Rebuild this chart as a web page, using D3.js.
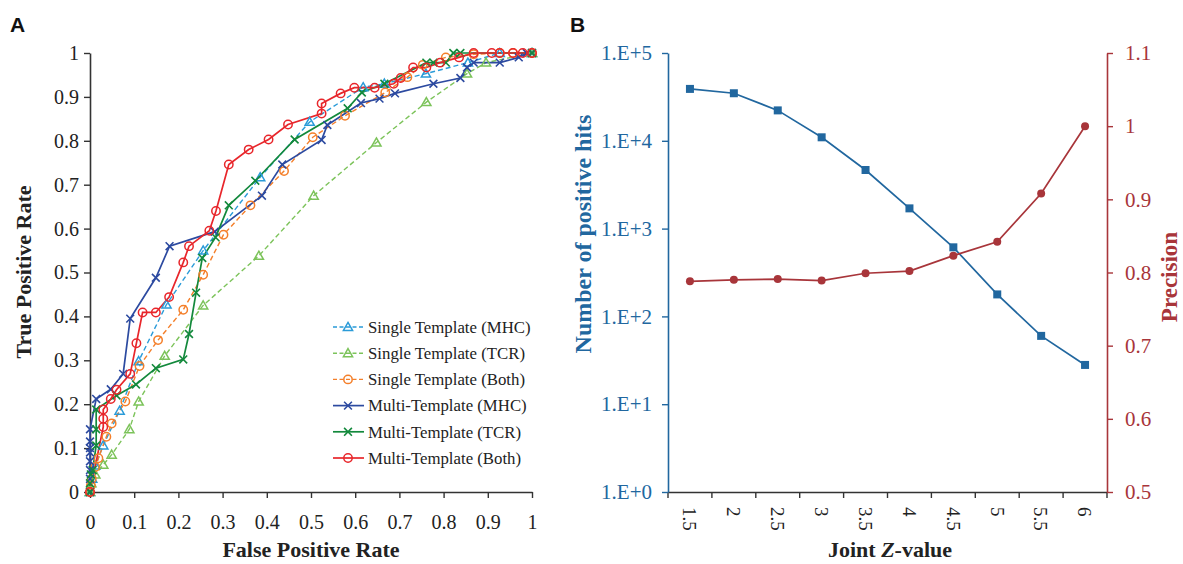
<!DOCTYPE html>
<html>
<head>
<meta charset="utf-8">
<script src="https://cdn.jsdelivr.net/npm/d3@7"></script>
<style>
  body { margin: 0; background: #fff; }
  svg { font-family: "Liberation Serif", "Times New Roman", serif; }
</style>
</head>
<body>
<div id="chart"></div>
<script>
// ---- Panel A: ROC curves (FPR, TPR pairs) ----
const singleMHC = [[0,0],[0.005,0.03],[0.012,0.06],[0.030,0.106],[0.067,0.185],[0.110,0.298],[0.173,0.427],[0.256,0.550],[0.385,0.717],[0.497,0.843],[0.618,0.922],[0.666,0.930],[0.760,0.953],[0.855,0.978],[0.927,1],[1,1]];
const singleTCR = [[0,0],[0.003,0.02],[0.012,0.04],[0.030,0.062],[0.049,0.085],[0.089,0.143],[0.110,0.206],[0.169,0.310],[0.256,0.425],[0.382,0.538],[0.506,0.675],[0.648,0.796],[0.761,0.888],[0.853,0.953],[0.896,0.978],[1,1]];
const singleBoth = [[0,0],[0.002,0.015],[0.004,0.03],[0.012,0.057],[0.019,0.077],[0.037,0.126],[0.049,0.156],[0.080,0.206],[0.112,0.287],[0.154,0.346],[0.211,0.415],[0.256,0.495],[0.302,0.586],[0.363,0.653],[0.439,0.731],[0.504,0.808],[0.577,0.857],[0.668,0.910],[0.718,0.945],[0.753,0.973],[0.805,0.990],[0.868,0.997],[0.927,1],[0.957,1],[1,1]];
const multiMHC = [[0,0],[0,0.03],[0,0.05],[0,0.07],[0,0.09],[0,0.10],[0,0.115],[0,0.143],[0.014,0.212],[0.047,0.234],[0.075,0.269],[0.091,0.395],[0.149,0.488],[0.180,0.560],[0.282,0.593],[0.389,0.675],[0.435,0.746],[0.524,0.802],[0.537,0.836],[0.613,0.886],[0.655,0.896],[0.690,0.908],[0.777,0.930],[0.838,0.943],[0.853,0.967],[0.868,0.978],[0.927,0.978],[0.970,0.990],[0.988,1],[1,1]];
const multiTCR = [[0,0],[0,0.02],[0.002,0.04],[0.006,0.05],[0.014,0.106],[0.014,0.143],[0.014,0.188],[0.060,0.220],[0.104,0.245],[0.149,0.282],[0.211,0.302],[0.224,0.360],[0.240,0.454],[0.254,0.533],[0.284,0.580],[0.314,0.653],[0.374,0.709],[0.463,0.803],[0.583,0.874],[0.615,0.910],[0.666,0.930],[0.761,0.978],[0.777,0.978],[0.805,0.978],[0.822,1],[0.838,1],[1,1]];
const multiBoth = [[0,0],[0.030,0.148],[0.030,0.167],[0.030,0.188],[0.047,0.212],[0.060,0.233],[0.091,0.269],[0.105,0.339],[0.119,0.409],[0.149,0.409],[0.179,0.444],[0.211,0.523],[0.224,0.560],[0.270,0.595],[0.285,0.640],[0.314,0.746],[0.359,0.780],[0.404,0.803],[0.448,0.837],[0.524,0.862],[0.524,0.885],[0.567,0.908],[0.598,0.921],[0.644,0.921],[0.687,0.930],[0.703,0.943],[0.731,0.967],[0.761,0.967],[0.792,0.978],[0.835,0.990],[0.868,1],[0.909,1],[0.927,1],[0.957,1],[0.979,1],[1,1]];

const rocTicks = [0,0.1,0.2,0.3,0.4,0.5,0.6,0.7,0.8,0.9,1];

// ---- Panel B: hits and precision by joint Z-value ----
const zValues = ["1.5","2","2.5","3","3.5","4","4.5","5","5.5","6"];
const positiveHits = [39000,34800,22200,10960,4650,1700,612,178,60,28];
const precision = [0.788,0.790,0.791,0.789,0.799,0.802,0.823,0.842,0.908,1.0];
const hitTicks = [1,10,100,1000,10000,100000];
const precTicks = [0.5,0.6,0.7,0.8,0.9,1.0,1.1];

const series = [
  {name: "Single Template (MHC)", data: singleMHC, color: "#2a9bd8", dash: "5,3", marker: "tri"},
  {name: "Single Template (TCR)", data: singleTCR, color: "#7cc35a", dash: "5,3", marker: "tri"},
  {name: "Single Template (Both)", data: singleBoth, color: "#f47f2a", dash: "5,3", marker: "circle"},
  {name: "Multi-Template (MHC)", data: multiMHC, color: "#2c4aa0", dash: null, marker: "x"},
  {name: "Multi-Template (TCR)", data: multiTCR, color: "#13893c", dash: null, marker: "x"},
  {name: "Multi-Template (Both)", data: multiBoth, color: "#e8262b", dash: null, marker: "circle"}
];

const W = 1183, H = 564;
const svg = d3.select("#chart").append("svg").attr("width", W).attr("height", H);

function drawMarker(g, type, x, y, color) {
  if (type === "circle") {
    g.append("circle").attr("cx", x).attr("cy", y).attr("r", 4.2)
      .attr("fill", "none").attr("stroke", color).attr("stroke-width", 1.5);
  } else if (type === "tri") {
    const s = 4.6;
    g.append("path")
      .attr("d", `M${x},${y - s}L${x + s},${y + s * 0.75}L${x - s},${y + s * 0.75}Z`)
      .attr("fill", "none").attr("stroke", color).attr("stroke-width", 1.5);
  } else {
    const s = 3.9;
    g.append("path")
      .attr("d", `M${x - s},${y - s}L${x + s},${y + s}M${x - s},${y + s}L${x + s},${y - s}`)
      .attr("stroke", color).attr("stroke-width", 1.6);
  }
}

// ================= Panel A =================
const xA = d3.scaleLinear().domain([0, 1]).range([90, 532]);
const yA = d3.scaleLinear().domain([0, 1]).range([492, 53]);

const gA = svg.append("g");

const axA_x = gA.append("g").attr("transform", `translate(0,${yA(0)})`)
  .call(d3.axisBottom(xA).tickValues(rocTicks).tickFormat(d3.format("")).tickSize(6).tickSizeOuter(0));
axA_x.selectAll("text").attr("y", 23).attr("font-size", 20).attr("fill", "#222")
  .attr("font-family", "Liberation Serif");
const axA_y = gA.append("g").attr("transform", `translate(${xA(0)},0)`)
  .call(d3.axisLeft(yA).tickValues(rocTicks).tickFormat(d3.format("")).tickSize(6).tickSizeOuter(0));
axA_y.selectAll("text").attr("x", -11).attr("font-size", 20).attr("fill", "#222")
  .attr("font-family", "Liberation Serif");
[axA_x, axA_y].forEach(a => {
  a.select(".domain").attr("stroke", "#333").attr("stroke-width", 1.6);
  a.selectAll(".tick line").attr("stroke", "#333").attr("stroke-width", 1.4);
});

const lineA = d3.line().x(d => xA(d[0])).y(d => yA(d[1]));
series.forEach(s => {
  gA.append("path").datum(s.data).attr("d", lineA)
    .attr("fill", "none").attr("stroke", s.color).attr("stroke-width", s.dash ? 1.4 : 1.7)
    .attr("stroke-dasharray", s.dash);
});
series.forEach(s => {
  const mg = gA.append("g");
  s.data.forEach(d => drawMarker(mg, s.marker, xA(d[0]), yA(d[1]), s.color));
});

// legend
const leg = gA.append("g");
series.forEach((s, i) => {
  const y = 327 + i * 26.2;
  leg.append("line").attr("x1", 333).attr("x2", 364).attr("y1", y).attr("y2", y)
    .attr("stroke", s.color).attr("stroke-width", s.dash ? 1.4 : 1.7).attr("stroke-dasharray", s.dash ? "4,2.5" : null);
  drawMarker(leg, s.marker, 348, y, s.color);
  leg.append("text").attr("x", 368).attr("y", y).attr("dy", "0.35em")
    .attr("font-size", 16.8).attr("fill", "#222").text(s.name);
});

gA.append("text").attr("x", 311).attr("y", 557).attr("text-anchor", "middle")
  .attr("font-size", 22).attr("font-weight", "bold").attr("fill", "#222").text("False Positive Rate");
gA.append("text").attr("transform", `translate(31,272) rotate(-90)`).attr("text-anchor", "middle")
  .attr("font-size", 22).attr("font-weight", "bold").attr("fill", "#222").text("True Positive Rate");
svg.append("text").attr("x", 10).attr("y", 32).attr("font-family", "Liberation Sans, Arial, sans-serif")
  .attr("font-size", 21).attr("font-weight", "bold").attr("fill", "#111").text("A");

// ================= Panel B =================
const blue = "#21679f", red = "#a8353a";
const xB = d3.scaleBand().domain(zValues).range([668, 1107]).padding(0);
const yHits = d3.scaleLog().domain([1, 1e5]).range([492, 53]);
const yPrec = d3.scaleLinear().domain([0.5, 1.1]).range([492, 53]);

const gB = svg.append("g");

// bottom axis: labels at band centers, ticks at band edges
const axB_x = gB.append("g").attr("transform", `translate(0,${yHits(1)})`)
  .call(d3.axisBottom(xB).tickSize(0).tickSizeOuter(0));
axB_x.select(".domain").attr("stroke", "#333").attr("stroke-width", 1.6);
axB_x.selectAll("text").attr("x", 0).attr("y", 0).attr("dy", "0.35em")
  .attr("transform", "translate(0,15) rotate(90)").attr("text-anchor", "start")
  .attr("font-size", 19).attr("fill", "#222").attr("font-family", "Liberation Serif");
const edges = zValues.map(z => xB(z)).concat([xB.range()[1]]);
gB.append("g").selectAll("line").data(edges).join("line")
  .attr("x1", d => d).attr("x2", d => d).attr("y1", yHits(1)).attr("y2", yHits(1) + 6)
  .attr("stroke", "#333").attr("stroke-width", 1.4);

const axB_l = gB.append("g").attr("transform", `translate(${xB.range()[0]},0)`)
  .call(d3.axisLeft(yHits).tickValues(hitTicks).tickFormat(d => "1.E+" + Math.round(Math.log10(d))).tickSize(6).tickSizeOuter(0));
axB_l.select(".domain").attr("stroke", blue).attr("stroke-width", 1.6);
axB_l.selectAll(".tick line").attr("stroke", blue).attr("stroke-width", 1.4);
axB_l.selectAll("text").attr("x", -16).attr("font-size", 21).attr("fill", blue).attr("font-family", "Liberation Serif");

const axB_r = gB.append("g").attr("transform", `translate(${xB.range()[1]},0)`)
  .call(d3.axisRight(yPrec).tickValues(precTicks).tickFormat(d3.format("")).tickSize(6).tickSizeOuter(0));
axB_r.select(".domain").attr("stroke", red).attr("stroke-width", 1.6);
axB_r.selectAll(".tick line").attr("stroke", red).attr("stroke-width", 1.4);
axB_r.selectAll("text").attr("x", 18).attr("font-size", 21).attr("fill", red).attr("font-family", "Liberation Serif");

const cx = z => xB(z) + xB.bandwidth() / 2;
const hitsPts = zValues.map((z, i) => [cx(z), yHits(positiveHits[i])]);
const precPts = zValues.map((z, i) => [cx(z), yPrec(precision[i])]);

gB.append("path").datum(hitsPts).attr("d", d3.line()).attr("fill", "none").attr("stroke", blue).attr("stroke-width", 1.7);
gB.append("g").selectAll("rect").data(hitsPts).join("rect")
  .attr("x", d => d[0] - 4).attr("y", d => d[1] - 4).attr("width", 8).attr("height", 8).attr("fill", blue);

gB.append("path").datum(precPts).attr("d", d3.line()).attr("fill", "none").attr("stroke", red).attr("stroke-width", 1.7);
gB.append("g").selectAll("circle").data(precPts).join("circle")
  .attr("cx", d => d[0]).attr("cy", d => d[1]).attr("r", 4).attr("fill", red);

gB.append("text").attr("transform", `translate(591,234) rotate(-90)`).attr("text-anchor", "middle")
  .attr("font-size", 24).attr("font-weight", "bold").attr("fill", blue).text("Number of positive hits");
gB.append("text").attr("transform", `translate(1177,277) rotate(-90)`).attr("text-anchor", "middle")
  .attr("font-size", 23).attr("font-weight", "bold").attr("fill", red).text("Precision");
const zt = gB.append("text").attr("x", 890).attr("y", 557).attr("text-anchor", "middle")
  .attr("font-size", 22).attr("font-weight", "bold").attr("fill", "#222");
zt.append("tspan").text("Joint ");
zt.append("tspan").attr("font-style", "italic").text("Z");
zt.append("tspan").text("-value");
svg.append("text").attr("x", 570).attr("y", 32).attr("font-family", "Liberation Sans, Arial, sans-serif")
  .attr("font-size", 21).attr("font-weight", "bold").attr("fill", "#111").text("B");
</script>
</body>
</html>
